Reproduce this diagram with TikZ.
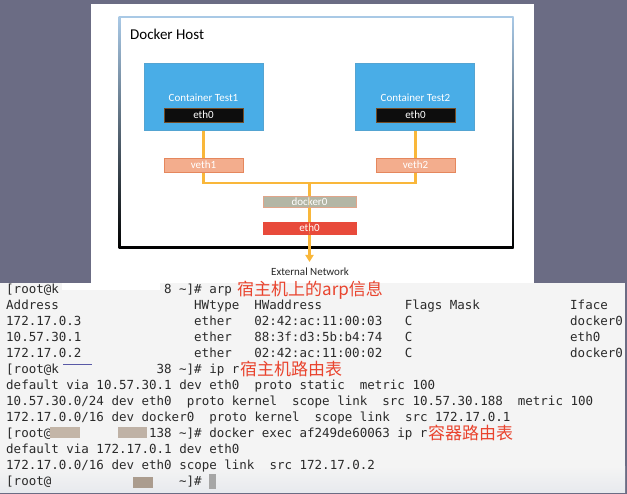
\documentclass[tikz,border=0pt]{standalone}
\usepackage{fontspec}
\setmainfont{Carlito}
\newfontfamily\monofont{DejaVu Sans Mono}
\newfontfamily\cjkfont{Noto Sans CJK SC}
\usetikzlibrary{arrows.meta}
\definecolor{bgslate}{HTML}{6B6C84}
\definecolor{hostblue}{HTML}{A9C9E6}
\definecolor{hostmid}{HTML}{8BA6C2}
\definecolor{contblue}{HTML}{49ADE7}
\definecolor{vethfill}{HTML}{F3AD8D}
\definecolor{vethline}{HTML}{E5875D}
\definecolor{dockfill}{HTML}{B3B6A5}
\definecolor{dockline}{HTML}{E0A58A}
\definecolor{ethred}{HTML}{E84A3B}
\definecolor{wirecol}{HTML}{F9B73A}
\definecolor{termbg}{HTML}{F4F4F4}
\definecolor{termbot}{HTML}{E8EAEE}
\definecolor{termtxt}{HTML}{2A2A2A}
\definecolor{annred}{HTML}{E9442E}
\pgfdeclarelayer{bottom}
\pgfdeclarelayer{wires}
\pgfsetlayers{bottom,wires,main}
\newcommand\tln[4]{\node[term] (#1) at ({6+7.52*#2},{293.5+16*#3}) {#4};}
\begin{document}
\begin{tikzpicture}[x=1pt,y=-1pt,
  dfont/.style={font=\fontsize{11}{13}\selectfont},
  cbox/.style={rectangle, fill=contblue, draw=contblue!80!gray, line width=0.4pt, minimum width=119, minimum height=67, inner sep=0},
  ctext/.style={dfont, text=white, inner sep=0},
  ethbox/.style={rectangle, fill=black!95, draw=brown!60!black, line width=0.5pt, dfont, text=white, minimum width=79, minimum height=14, inner sep=0},
  vethbox/.style={rectangle, fill=vethfill, draw=vethline, line width=0.6pt, dfont, text=white, minimum width=79, minimum height=14, inner sep=0},
  dockbox/.style={rectangle, fill=dockfill, draw=dockline, line width=0.6pt, dfont, text=white, minimum width=93, minimum height=11, inner sep=0},
  redbox/.style={rectangle, fill=ethred, draw=ethred, dfont, text=white, minimum width=93, minimum height=12, inner sep=0},
  wire/.style={draw=wirecol, line width=2.5pt},
  term/.style={anchor=base west, inner sep=0, font=\monofont\fontsize{12.5}{15}\selectfont, text=termtxt},
  cjk/.style={anchor=base west, inner sep=0, font=\cjkfont\fontsize{17}{20}\selectfont, text=annred}]
\useasboundingbox (0,0) rectangle (627,494);
\begin{pgfonlayer}{bottom}
  \fill[bgslate] (0,0) rectangle (627,494);
  \fill[white] (91,4) rectangle (534,283);
  \shade[top color=hostblue, middle color=hostmid, bottom color=black] (118.5,16.5) rectangle (513.5,248.5);
  \fill[white] (120.5,18.5) rectangle (511.5,246.5);
  \fill[termbg] (0,283) rectangle (625,492);
  \shade[top color=termbg, bottom color=termbot] (0,466) rectangle (625,492);
\end{pgfonlayer}

% diagram
\node[anchor=west, inner sep=0, font=\fontsize{15}{18}\selectfont] (host) at (130,34) {Docker Host};
\node[cbox] (c1) at (203.5,96.5) {};
\node[cbox] (c2) at (415,96.5) {};
\node[ctext] (c1t) at (203.5,98) {Container Test1};
\node[ctext] (c2t) at (415.5,98) {Container Test2};
\node[ethbox] (e1) at (203.5,115) {eth0};
\node[ethbox] (e2) at (415.5,115) {eth0};
\node[vethbox] (v1) at (203.5,165) {veth1};
\node[vethbox] (v2) at (415.5,165) {veth2};
\node[dockbox] (d0) at (309.5,201.5) {docker0};
\node[redbox] (er) at (309.5,228) {eth0};
\coordinate (j1) at (203.5,183);
\coordinate (j2) at (415.5,183);
\coordinate (jc) at (309.5,183);
\coordinate (ext) at (309.5,262);
\node[dfont, inner sep=0, text=black!85] (en) at (310,272) {External Network};
\begin{pgfonlayer}{wires}
  \draw[wire] (e1.south) -- (j1) -- (j2) -- (e2.south);
  \draw[wire, -{Triangle[width=8pt,length=7pt]}] (jc) -- (ext);
\end{pgfonlayer}
\draw[wirecol, line width=1.5pt, opacity=0.35] (d0.north) -- (er.south);

% terminal
\tln{r0a}{0}{0}{[root@k}
\tln{r0b}{21}{0}{8 \textasciitilde]\# arp}
\fill[white] (62,283) rectangle (160,290);
\node[cjk] (r0c) at (237,295.5) {宿主机上的arp信息};
\tln{r1a}{0}{1}{Address}
\tln{r1b}{25}{1}{HWtype}
\tln{r1c}{33}{1}{HWaddress}
\tln{r1d}{53}{1}{Flags Mask}
\tln{r1e}{75}{1}{Iface}
\tln{r2a}{0}{2}{172.17.0.3}
\tln{r2b}{25}{2}{ether}
\tln{r2c}{33}{2}{02:42:ac:11:00:03}
\tln{r2d}{53}{2}{C}
\tln{r2e}{75}{2}{docker0}
\tln{r3a}{0}{3}{10.57.30.1}
\tln{r3b}{25}{3}{ether}
\tln{r3c}{33}{3}{88:3f:d3:5b:b4:74}
\tln{r3d}{53}{3}{C}
\tln{r3e}{75}{3}{eth0}
\tln{r4a}{0}{4}{172.17.0.2}
\tln{r4b}{25}{4}{ether}
\tln{r4c}{33}{4}{02:42:ac:11:00:02}
\tln{r4d}{53}{4}{C}
\tln{r4e}{75}{4}{docker0}
\tln{r5a}{0}{5}{[root@k}
\tln{r5b}{20}{5}{38 \textasciitilde]\# ip r}
\draw[color=blue!30!gray, line width=1pt] (63,365) -- (92,365);
\node[cjk] (r5c) at (240,375.5) {宿主机路由表};
\tln{r6}{0}{6}{default via 10.57.30.1 dev eth0\ \ proto static\ \ metric 100}
\tln{r7}{0}{7}{10.57.30.0/24 dev eth0\ \ proto kernel\ \ scope link\ \ src 10.57.30.188\ \ metric 100}
\tln{r8}{0}{8}{172.17.0.0/16 dev docker0\ \ proto kernel\ \ scope link\ \ src 172.17.0.1}
\tln{r9a}{0}{9}{[root@k}
\tln{r9b}{19}{9}{138 \textasciitilde]\# docker exec af249de60063 ip r}
\fill[black!45!brown!40!white] (50,427) rectangle (80,438);
\fill[black!50!brown!40!white] (118,427) rectangle (147,438);
\node[cjk] (r9c) at (428,439.5) {容器路由表};
\tln{r10}{0}{10}{default via 172.17.0.1 dev eth0}
\tln{r11}{0}{11}{172.17.0.0/16 dev eth0 scope link\ \ src 172.17.0.2}
\tln{r12a}{0}{12}{[root@}
\tln{r12b}{23}{12}{\textasciitilde]\#}
\fill[black!55!brown!50!white] (133,477) rectangle (153,488);
\fill[black!35] (209,474) rectangle (216,489);
\end{tikzpicture}
\end{document}
